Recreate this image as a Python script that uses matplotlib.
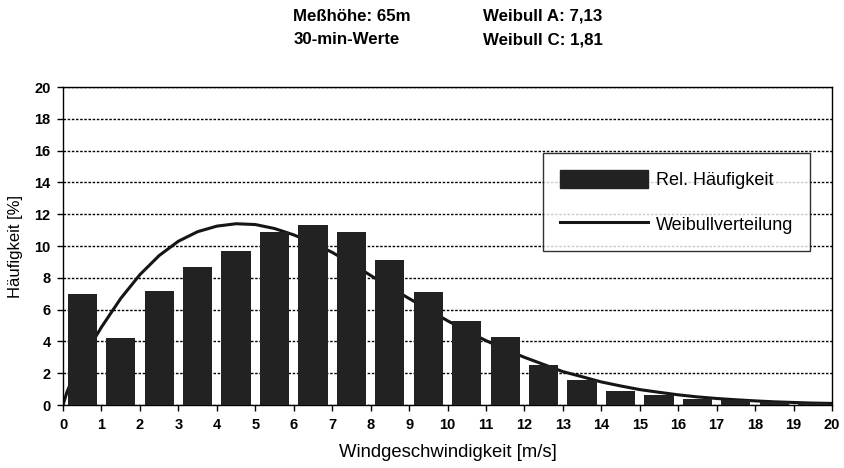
import matplotlib
matplotlib.use("Agg")
import matplotlib.pyplot as plt
from matplotlib.patches import Patch
from matplotlib.lines import Line2D

plt.rcParams['font.family'] = ['Liberation Sans', 'DejaVu Sans']

# Relative frequency per 1 m/s bin (centres 0.5 ... 19.5)
bin_centres = [0.5, 1.5, 2.5, 3.5, 4.5, 5.5, 6.5, 7.5, 8.5, 9.5,
               10.5, 11.5, 12.5, 13.5, 14.5, 15.5, 16.5, 17.5, 18.5, 19.5]
rel_freq = [7.0, 4.2, 7.2, 8.7, 9.7, 10.9, 11.3, 10.9, 9.1, 7.1,
            5.3, 4.3, 2.5, 1.6, 0.9, 0.6, 0.4, 0.3, 0.2, 0.15]

# Weibull curve
weib_x = [0, 0.1, 0.25, 0.5, 1.0, 1.5, 2.0, 2.5, 3.0, 3.5, 4.0, 4.5, 5.0, 5.5,
          6.0, 6.5, 7.0, 7.5, 8.0, 8.5, 9.0, 9.5, 10.0, 10.5, 11.0, 11.5,
          12.0, 12.5, 13.0, 13.5, 14.0, 14.5, 15.0, 15.5, 16.0, 16.5,
          17.0, 17.5, 18.0, 18.5, 19.0, 19.5, 20.0]
weib_y = [0, 0.8, 1.7, 2.9, 4.9, 6.7, 8.2, 9.4, 10.3, 10.9, 11.25, 11.4, 11.35,
          11.1, 10.7, 10.2, 9.6, 8.9, 8.15, 7.4, 6.7, 6.0, 5.3, 4.65, 4.05,
          3.5, 3.0, 2.55, 2.1, 1.78, 1.45, 1.2, 0.97, 0.8, 0.64, 0.51,
          0.41, 0.33, 0.26, 0.2, 0.16, 0.12, 0.1]

x_ticks = list(range(0, 21))
y_ticks = list(range(0, 21, 2))

fig = plt.figure(figsize=(8.45, 4.68), dpi=100)
ax = fig.add_axes([0.0746, 0.1346, 0.9100, 0.6795])

bar_col = '#222222'
ax.plot(weib_x, weib_y, color='#151515', lw=2.2, zorder=2)
ax.bar(bin_centres, rel_freq, width=0.76, color=bar_col, zorder=3)

ax.set_xlim(0, 20)
ax.set_ylim(0, 20)
ax.set_xticks(x_ticks)
ax.set_yticks(y_ticks)
ax.tick_params(axis='both', direction='out', length=4, width=1, colors='black',
               labelsize=10.5, pad=5)
for lab in ax.get_xticklabels() + ax.get_yticklabels():
    lab.set_fontweight('bold')

ax.set_axisbelow(True)
ax.yaxis.grid(True, color='black', lw=1.0, linestyle=(0, (1.8, 1.2)))
for s in ax.spines.values():
    s.set_color('black')
    s.set_linewidth(1.0)

ax.set_xlabel('Windgeschwindigkeit [m/s]', fontsize=13.3, labelpad=9)
ax.set_ylabel('Häufigkeit [%]', fontsize=12, labelpad=8)

handles = [Patch(facecolor=bar_col, edgecolor=bar_col),
           Line2D([0], [0], color='#151515', lw=2.2)]
leg = ax.legend(handles, ['Rel. Häufigkeit', 'Weibullverteilung'],
                loc='upper left', bbox_to_anchor=(0.624, 0.792),
                fontsize=13, frameon=True, fancybox=False,
                handlelength=4.9, handleheight=1.15, handletextpad=0.4,
                borderpad=0.95, labelspacing=1.4, borderaxespad=0)
leg.get_frame().set_edgecolor('black')
leg.get_frame().set_linewidth(1.0)

fig.text(0.347, 0.965, 'Meßhöhe: 65m', fontsize=12.2, fontweight='bold', va='center')
fig.text(0.347, 0.915, '30-min-Werte', fontsize=12.2, fontweight='bold', va='center')
fig.text(0.572, 0.965, 'Weibull A: 7,13', fontsize=12.2, fontweight='bold', va='center')
fig.text(0.572, 0.915, 'Weibull C: 1,81', fontsize=12.2, fontweight='bold', va='center')

fig.savefig('out.png', dpi=100)
